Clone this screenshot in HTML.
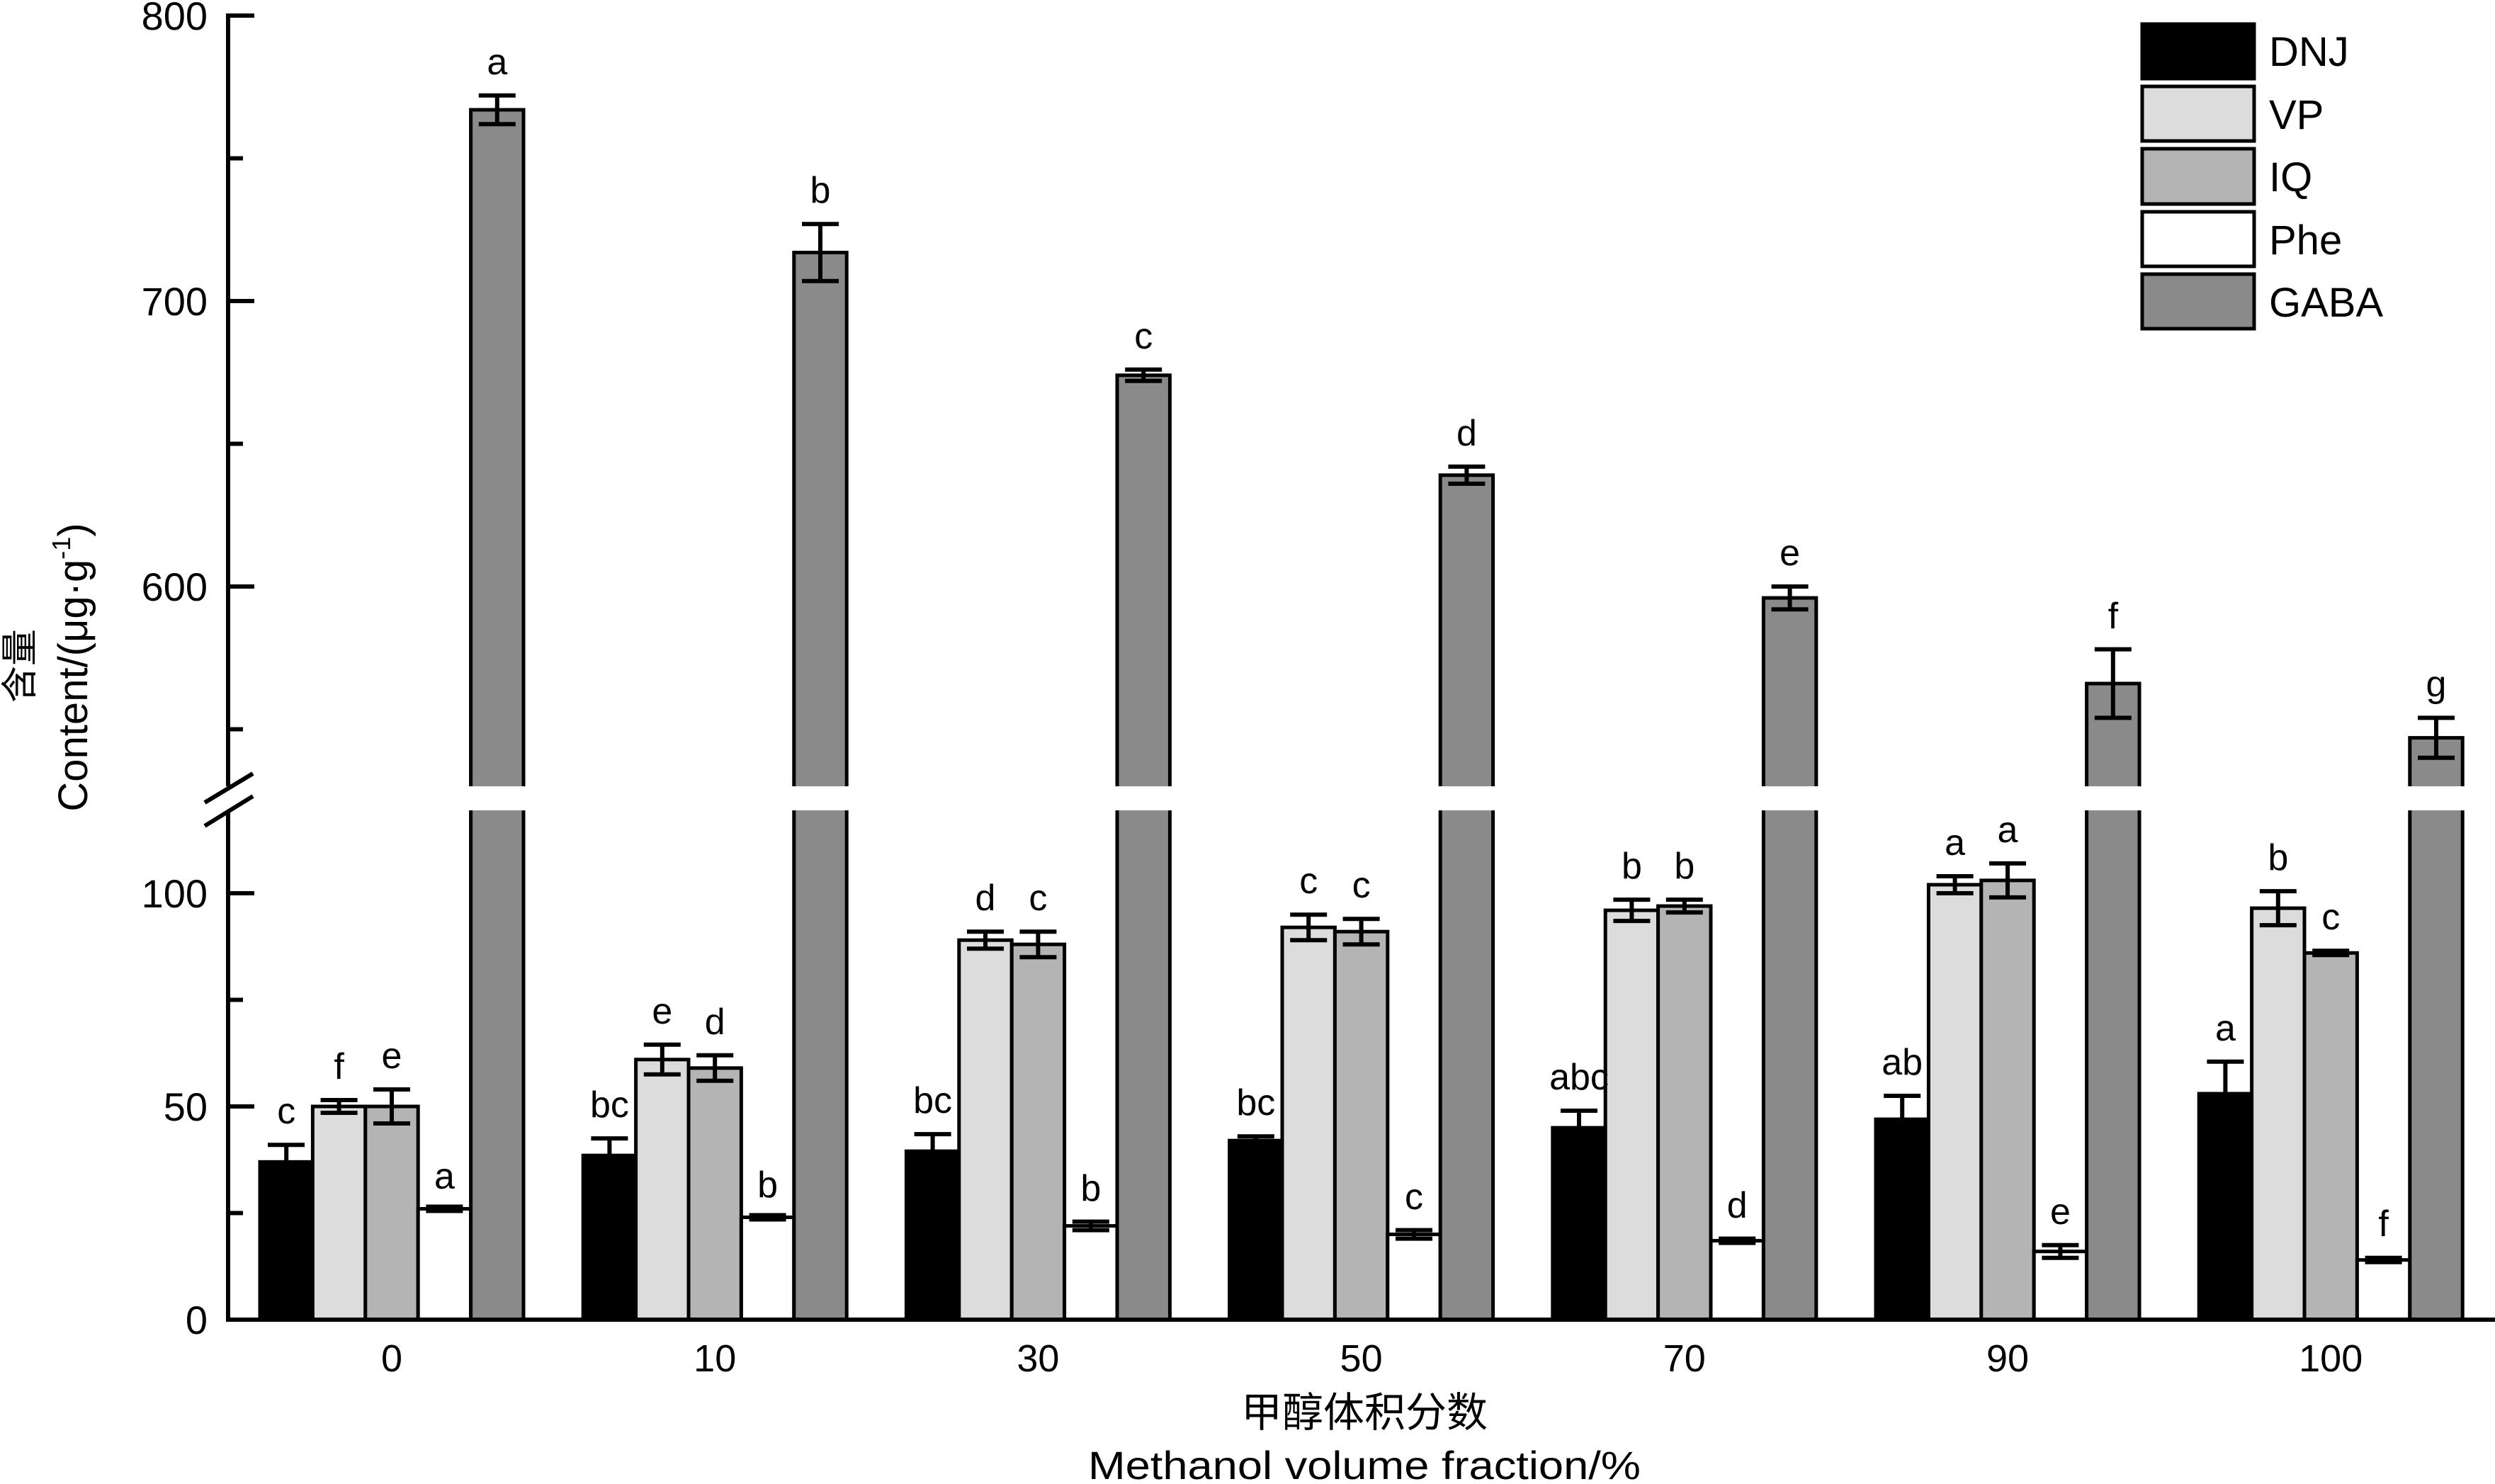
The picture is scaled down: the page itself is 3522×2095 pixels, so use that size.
<!DOCTYPE html>
<html><head><meta charset="utf-8"><style>
html,body{margin:0;padding:0;background:#fff;}
svg{display:block;}
text{font-family:"Liberation Sans","Noto Sans CJK SC",sans-serif;fill:#000;}
</style></head><body>
<svg width="3522" height="2095" viewBox="0 0 3522 2095" xmlns="http://www.w3.org/2000/svg">
<!-- bars -->
<g stroke="#000" stroke-width="5">
<!-- group 0 -->
<rect x="367" y="1640.3" width="74.4" height="222.7" fill="#000"/>
<rect x="441.4" y="1562" width="74.4" height="301" fill="#dcdcdc"/>
<rect x="515.8" y="1562" width="74.4" height="301" fill="#b4b4b4"/>
<rect x="590.2" y="1706.5" width="74.4" height="156.5" fill="#fff"/>
<rect x="664.6" y="155" width="74.4" height="1708" fill="#8a8a8a"/>
<!-- group 1 -->
<rect x="823.2" y="1631.2" width="74.4" height="231.8" fill="#000"/>
<rect x="897.6" y="1495.8" width="74.4" height="367.2" fill="#dcdcdc"/>
<rect x="972" y="1507.8" width="74.4" height="355.2" fill="#b4b4b4"/>
<rect x="1046.4" y="1718.5" width="74.4" height="144.5" fill="#fff"/>
<rect x="1120.8" y="356.5" width="74.4" height="1506.5" fill="#8a8a8a"/>
<!-- group 2 -->
<rect x="1279.4" y="1625.2" width="74.4" height="237.8" fill="#000"/>
<rect x="1353.8" y="1327.2" width="74.4" height="535.8" fill="#dcdcdc"/>
<rect x="1428.2" y="1333.2" width="74.4" height="529.8" fill="#b4b4b4"/>
<rect x="1502.6" y="1730.6" width="74.4" height="132.4" fill="#fff"/>
<rect x="1577" y="529.8" width="74.4" height="1333.2" fill="#8a8a8a"/>
<!-- group 3 -->
<rect x="1735.6" y="1610.2" width="74.4" height="252.8" fill="#000"/>
<rect x="1810" y="1309.2" width="74.4" height="553.8" fill="#dcdcdc"/>
<rect x="1884.4" y="1315.2" width="74.4" height="547.8" fill="#b4b4b4"/>
<rect x="1958.8" y="1742.6" width="74.4" height="120.4" fill="#fff"/>
<rect x="2033.2" y="670.8" width="74.4" height="1192.2" fill="#8a8a8a"/>
<!-- group 4 -->
<rect x="2191.8" y="1592.1" width="74.4" height="270.9" fill="#000"/>
<rect x="2266.2" y="1285.1" width="74.4" height="577.9" fill="#dcdcdc"/>
<rect x="2340.6" y="1279.1" width="74.4" height="583.9" fill="#b4b4b4"/>
<rect x="2415" y="1751.6" width="74.4" height="111.4" fill="#fff"/>
<rect x="2489.4" y="844.1" width="74.4" height="1018.9" fill="#8a8a8a"/>
<!-- group 5 -->
<rect x="2648" y="1580.1" width="74.4" height="282.9" fill="#000"/>
<rect x="2722.4" y="1249" width="74.4" height="614" fill="#dcdcdc"/>
<rect x="2796.8" y="1242.9" width="74.4" height="620.1" fill="#b4b4b4"/>
<rect x="2871.2" y="1766.7" width="74.4" height="96.3" fill="#fff"/>
<rect x="2945.6" y="965" width="74.4" height="898" fill="#8a8a8a"/>
<!-- group 6 -->
<rect x="3104.2" y="1544" width="74.4" height="319" fill="#000"/>
<rect x="3178.6" y="1282.1" width="74.4" height="580.9" fill="#dcdcdc"/>
<rect x="3253" y="1345.3" width="74.4" height="517.7" fill="#b4b4b4"/>
<rect x="3327.4" y="1778.7" width="74.4" height="84.3" fill="#fff"/>
<rect x="3401.8" y="1041.6" width="74.4" height="821.4" fill="#8a8a8a"/>
</g>
<!-- error bars -->
<g stroke="#000" stroke-width="6" fill="none">
<path d="M378 1616.2H430M404.2 1616.2V1664.4M378 1664.4H430"/>
<path d="M452.6 1553H504.6M478.6 1553V1571M452.6 1571H504.6"/>
<path d="M527 1538H579M553 1538V1586M527 1586H579"/>
<path d="M601.4 1703.5H653.4M627.4 1703.5V1709.5M601.4 1709.5H653.4"/>
<path d="M675.8 134.8H727.8M701.8 134.8V175.2M675.8 175.2H727.8"/>

<path d="M834.4 1607.1H886.4M860.4 1607.1V1655.3M834.4 1655.3H886.4"/>
<path d="M908.8 1474.8H960.8M934.8 1474.8V1516.8M908.8 1516.8H960.8"/>
<path d="M983.2 1489.8H1035.2M1009.2 1489.8V1525.8M983.2 1525.8H1035.2"/>
<path d="M1057.6 1715.5H1109.6M1083.6 1715.5V1721.5M1057.6 1721.5H1109.6"/>
<path d="M1132 316.2H1184M1158 316.2V396.8M1132 396.8H1184"/>

<path d="M1290.6 1601.1H1342.6M1316.6 1601.1V1649.3M1290.6 1649.3H1342.6"/>
<path d="M1365 1315.2H1417M1391 1315.2V1339.2M1365 1339.2H1417"/>
<path d="M1439.4 1315.2H1491.4M1465.4 1315.2V1351.2M1439.4 1351.2H1491.4"/>
<path d="M1513.8 1724.6H1565.8M1539.8 1724.6V1736.6M1513.8 1736.6H1565.8"/>
<path d="M1588.2 521.8H1640.2M1614.2 521.8V537.8M1588.2 537.8H1640.2"/>

<path d="M1746.8 1604.2H1798.8M1772.8 1604.2V1616.2M1746.8 1616.2H1798.8"/>
<path d="M1821.2 1291.2H1873.2M1847.2 1291.2V1327.2M1821.2 1327.2H1873.2"/>
<path d="M1895.6 1297.2H1947.6M1921.6 1297.2V1333.2M1895.6 1333.2H1947.6"/>
<path d="M1970 1736.6H2022M1996 1736.6V1748.6M1970 1748.6H2022"/>
<path d="M2044.4 658.7H2096.4M2070.4 658.7V682.9M2044.4 682.9H2096.4"/>

<path d="M2203 1568H2255M2229 1568V1616.2M2203 1616.2H2255"/>
<path d="M2277.4 1270.1H2329.4M2303.4 1270.1V1300.1M2277.4 1300.1H2329.4"/>
<path d="M2351.8 1270.1H2403.8M2377.8 1270.1V1288.1M2351.8 1288.1H2403.8"/>
<path d="M2426.2 1748.6H2478.2M2452.2 1748.6V1754.6M2426.2 1754.6H2478.2"/>
<path d="M2500.6 828H2552.6M2526.6 828V860.2M2500.6 860.2H2552.6"/>

<path d="M2659.2 1547H2711.2M2685.2 1547V1613.2M2659.2 1613.2H2711.2"/>
<path d="M2733.6 1237H2785.6M2759.6 1237V1261M2733.6 1261H2785.6"/>
<path d="M2808 1218.9H2860M2834 1218.9V1266.9M2808 1266.9H2860"/>
<path d="M2882.4 1757.7H2934.4M2908.4 1757.7V1775.7M2882.4 1775.7H2934.4"/>
<path d="M2956.8 916.6H3008.8M2982.8 916.6V1013.4M2956.8 1013.4H3008.8"/>

<path d="M3115.4 1498.8H3167.4M3141.4 1498.8V1589.2M3115.4 1589.2H3167.4"/>
<path d="M3189.8 1258.1H3241.8M3215.8 1258.1V1306.1M3189.8 1306.1H3241.8"/>
<path d="M3264.2 1342.3H3316.2M3290.2 1342.3V1348.3M3264.2 1348.3H3316.2"/>
<path d="M3338.6 1775.7H3390.6M3364.6 1775.7V1781.7M3338.6 1781.7H3390.6"/>
<path d="M3413 1013.4H3465M3439 1013.4V1069.8M3413 1069.8H3465"/>
</g>
<!-- break gaps in GABA bars -->
<g fill="#fff">
<rect x="660" y="1110" width="84" height="34"/>
<rect x="1116" y="1110" width="84" height="34"/>
<rect x="1572" y="1110" width="84" height="34"/>
<rect x="2028" y="1110" width="84" height="34"/>
<rect x="2485" y="1110" width="84" height="34"/>
<rect x="2941" y="1110" width="84" height="34"/>
<rect x="3397" y="1110" width="84" height="34"/>
</g>
<!-- axes -->
<g stroke="#000" stroke-width="6" fill="none">
<path d="M322 19V1110M322 1144V1866M319 1863H3522"/>
<path d="M289 1133L357 1092M289 1166L357 1124"/>
<path d="M322 22H359M322 223.5H343M322 425H359M322 626.5H343M322 828H359M322 1029.5H343"/>
<path d="M322 1261H359M322 1411.5H343M322 1562H359M322 1712.5H343"/>
</g>
<!-- y tick labels -->
<g font-size="56" text-anchor="end">
<text x="293" y="42">800</text>
<text x="293" y="445">700</text>
<text x="293" y="848">600</text>
<text x="293" y="1281">100</text>
<text x="293" y="1582">50</text>
<text x="293" y="1883">0</text>
</g>
<!-- y title -->
<text transform="translate(46,940) rotate(-90)" font-size="52" text-anchor="middle">含量</text>
<text transform="translate(123,942) rotate(-90)" font-size="58" text-anchor="middle">Content/(μg·g<tspan font-size="36" dy="-24">-1</tspan><tspan dy="24">)</tspan></text>
<!-- x tick labels -->
<g font-size="54" text-anchor="middle">
<text x="553" y="1936">0</text>
<text x="1009.2" y="1936">10</text>
<text x="1465.4" y="1936">30</text>
<text x="1921.6" y="1936">50</text>
<text x="2377.8" y="1936">70</text>
<text x="2834" y="1936">90</text>
<text x="3290.2" y="1936">100</text>
</g>
<text x="1926" y="2014" font-size="58" text-anchor="middle">甲醇体积分数</text>
<text x="1926" y="2088" font-size="56" text-anchor="middle" textLength="780" lengthAdjust="spacingAndGlyphs">Methanol volume fraction/%</text>
<!-- significance letters -->
<g font-size="52" text-anchor="middle">
<text x="404.2" y="1586">c</text><text x="478.6" y="1523">f</text><text x="553" y="1508">e</text><text x="627.4" y="1678">a</text><text x="701.8" y="105">a</text>
<text x="860.4" y="1577">bc</text><text x="934.8" y="1445">e</text><text x="1009.2" y="1460">d</text><text x="1083.6" y="1690">b</text><text x="1158" y="286">b</text>
<text x="1316.6" y="1571">bc</text><text x="1391" y="1285">d</text><text x="1465.4" y="1285">c</text><text x="1539.8" y="1695">b</text><text x="1614.2" y="492">c</text>
<text x="1772.8" y="1574">bc</text><text x="1847.2" y="1261">c</text><text x="1921.6" y="1267">c</text><text x="1996" y="1707">c</text><text x="2070.4" y="629">d</text>
<text x="2229" y="1538">abc</text><text x="2303.4" y="1240">b</text><text x="2377.8" y="1240">b</text><text x="2452.2" y="1719">d</text><text x="2526.6" y="798">e</text>
<text x="2685.2" y="1517">ab</text><text x="2759.6" y="1207">a</text><text x="2834" y="1189">a</text><text x="2908.4" y="1728">e</text><text x="2982.8" y="887">f</text>
<text x="3141.4" y="1469">a</text><text x="3215.8" y="1228">b</text><text x="3290.2" y="1312">c</text><text x="3364.6" y="1745">f</text><text x="3439" y="983">g</text>
</g>
<!-- legend -->
<g stroke="#000" stroke-width="5">
<rect x="3024" y="34" width="158" height="77" fill="#000"/>
<rect x="3024" y="122" width="158" height="77" fill="#dcdcdc"/>
<rect x="3024" y="210" width="158" height="78" fill="#b4b4b4"/>
<rect x="3024" y="299" width="158" height="77" fill="#fff"/>
<rect x="3024" y="387" width="158" height="77" fill="#8a8a8a"/>
</g>
<g font-size="58">
<text x="3203" y="93">DNJ</text>
<text x="3203" y="182">VP</text>
<text x="3203" y="270">IQ</text>
<text x="3203" y="359">Phe</text>
<text x="3203" y="447">GABA</text>
</g>
</svg>
</body></html>
